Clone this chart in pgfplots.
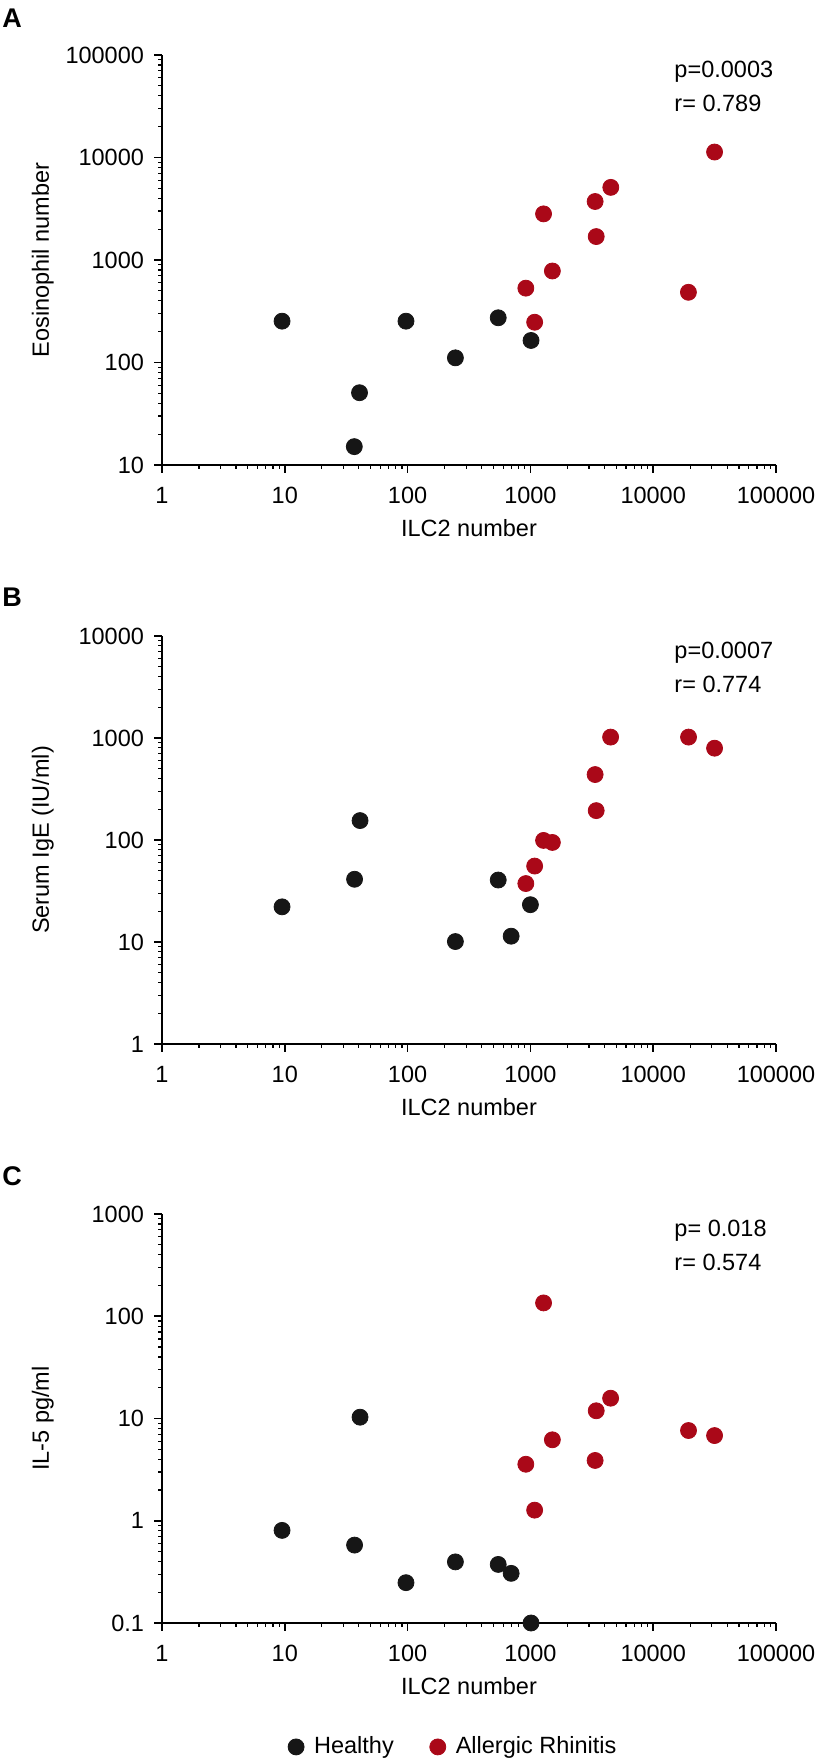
\documentclass[border=0pt]{standalone}
\usepackage{pgfplots}
\pgfplotsset{compat=1.18}
\usepackage{fontspec}
\setmainfont{Liberation Sans}
\definecolor{hblack}{RGB}{22,22,22}
\definecolor{ared}{RGB}{170,8,24}
\newcommand{\fs}{\fontsize{11.75}{14}\selectfont}
\pgfplotsset{
  healthy/.style={only marks, mark=*, mark size=4pt, color=hblack, mark options={draw=hblack, fill=hblack}},
  allergic/.style={only marks, mark=*, mark size=4pt, color=ared, mark options={draw=ared, fill=ared}},
  every axis/.append style={
  scale only axis, width=307pt, height=205pt,
  xmin=1, xmax=100000,
  axis lines*=left, axis line style={line width=0.8pt,-},
  tick align=outside, major tick length=4pt, minor tick length=2pt,
  every tick/.style={line width=0.8pt, black},
  every minor tick/.style={line width=0.6pt, black},
  log ticks with fixed point,
  /pgf/number format/1000 sep={},
  /pgf/number format/assume math mode=true,
  tick label style={font=\fs},
  xticklabel style={yshift=-3.5pt},
  yticklabel style={xshift=-1.5pt},
  label style={font=\fs},
  xlabel={ILC2 number},
  xlabel style={at={(axis description cs:0.5,0)}, anchor=center, yshift=-31.5pt},
  ylabel style={at={(axis description cs:-0.194,0.5)}, anchor=center},
  xtick={1,10,100,1000,10000,100000},
  clip=false,
  }
}
\begin{document}
\begin{tikzpicture}
\useasboundingbox (0,0) rectangle (409.5pt,880.5pt);
% Panel A
\begin{axis}[xmode=log, ymode=log, at={(81pt,648pt)}, anchor=south west,
  ymin=10, ymax=100000, ytick={10,100,1000,10000,100000},
  ylabel={Eosinophil number}]
\addplot[healthy] coordinates {(9.5,253) (97,253) (547,273) (245,111) (1012,164) (40.6,50.7) (36.8,15.1)};
\addplot[allergic] coordinates {(31600,11300) (4515,5110) (3365,3720) (1280,2817) (3435,1692) (1510,781) (918,531) (19360,484) (1083,247)};
\node[anchor=base west, font=\fs, inner sep=0] at (axis description cs:0.834,0.946) {p=0.0003};
\node[anchor=base west, font=\fs, inner sep=0] at (axis description cs:0.834,0.863) {r= 0.789};
\end{axis}
% Panel B
\begin{axis}[xmode=log, ymode=log, at={(81pt,358.5pt)}, anchor=south west, height=204pt,
  ymin=1, ymax=10000, ytick={1,10,100,1000,10000},
  ylabel={Serum IgE (IU/ml)}]
\addplot[healthy] coordinates {(9.5,22.1) (41,155) (37,41.2) (245,10.1) (547,40.5) (697,11.4) (1000,23.2)};
\addplot[allergic] coordinates {(4500,1020) (19400,1020) (31600,794) (3365,438) (3435,194) (1280,99) (1510,94.6) (1083,55.5) (918,37.4)};
\node[anchor=base west, font=\fs, inner sep=0] at (axis description cs:0.834,0.946) {p=0.0007};
\node[anchor=base west, font=\fs, inner sep=0] at (axis description cs:0.834,0.862) {r= 0.774};
\end{axis}
% Panel C
\begin{axis}[xmode=log, ymode=log, at={(81pt,69pt)}, anchor=south west, height=204.5pt,
  ymin=0.1, ymax=1000, ytick={0.1,1,10,100,1000},
  ylabel={IL-5 pg/ml},
  legend columns=2,
  legend style={draw=none, fill=none, font=\fs, at={(axis description cs:0.476,-0.303)}, anchor=center,
    /tikz/every odd column/.append style={column sep=3pt},
    /tikz/every even column/.append style={column sep=16pt}},
  legend cell align=left]
\addplot[healthy] coordinates {(9.5,0.805) (37,0.578) (41,10.3) (97,0.248) (245,0.396) (547,0.374) (697,0.306) (1012,0.1)};
\addlegendentry{Healthy}
\addplot[allergic] coordinates {(1280,135) (4500,15.8) (3435,11.9) (19400,7.63) (31600,6.81) (1510,6.19) (918,3.57) (3365,3.89) (1083,1.27)};
\addlegendentry{Allergic Rhinitis}
\node[anchor=base west, font=\fs, inner sep=0] at (axis description cs:0.834,0.946) {p= 0.018};
\node[anchor=base west, font=\fs, inner sep=0] at (axis description cs:0.834,0.863) {r= 0.574};
\end{axis}
\node[anchor=base west, inner sep=0, font=\bfseries\fontsize{13.5}{16}\selectfont] at (1pt,866.5pt) {A};
\node[anchor=base west, inner sep=0, font=\bfseries\fontsize{13.5}{16}\selectfont] at (1pt,577pt) {B};
\node[anchor=base west, inner sep=0, font=\bfseries\fontsize{13.5}{16}\selectfont] at (1pt,287.5pt) {C};
\end{tikzpicture}
\end{document}
